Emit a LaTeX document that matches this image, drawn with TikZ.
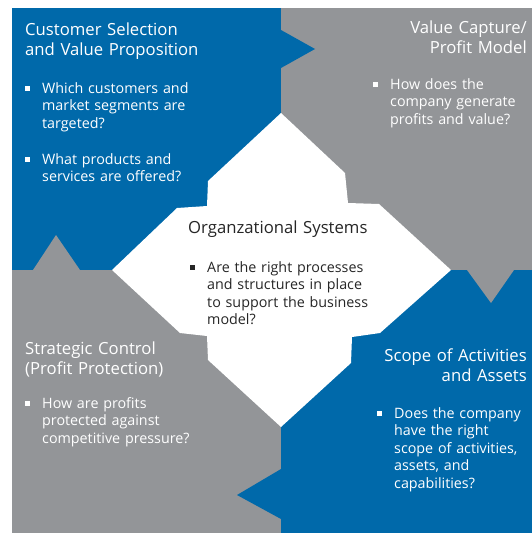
\documentclass[tikz,border=0pt]{standalone}
\usepackage{fontspec}
\setmainfont{Open Sans}
\usepackage{xcolor}
\definecolor{bmblue}{RGB}{0,105,170}
\definecolor{bmgray}{RGB}{147,149,152}
\def\capfont{\fontsize{16.7}{20.5}\selectfont}
\def\itmfont{\fontsize{14.3}{17.6}\selectfont}
\def\sq{\llap{\rule[2.3pt]{4.7pt}{4.7pt}\hspace{12.3pt}}}
\tikzset{
  capL/.style={anchor=base west, inner sep=0, text width=220pt, align=left, font=\capfont},
  capR/.style={anchor=base east, inner sep=0, text width=220pt, align=right, font=\capfont},
  itm/.style={anchor=base west, inner sep=0, text width=200pt, align=left, font=\itmfont},
}
\begin{document}
\begin{tikzpicture}[x=1pt,y=-1pt]
\useasboundingbox (0,0) rectangle (532,533);
% four quadrants
\fill[bmblue] (12,8) rectangle (281,270);
\fill[bmgray] (281,8) rectangle (532,270);
\fill[bmgray] (12,270) rectangle (281,533);
\fill[bmblue] (281,270) rectangle (532,533);
% arrow notches between the quadrants
\fill[bmblue] (281,30) -- (315,49) -- (281,68) -- cycle;
\fill[bmgray] (33,270) -- (56,235) -- (80,270) -- cycle;
\fill[bmgray] (467,270) -- (491,303) -- (514,270) -- cycle;
\fill[bmblue] (281,469) -- (237,495) -- (281,519) -- cycle;
% white centre with stepped edges
\fill[white] (112,270) -- (177,208) -- (207,206) -- (208,181) -- (281,113)
  -- (345,173) -- (348,203) -- (379,204) -- (451,270)
  -- (380,333) -- (352,337) -- (351,363) -- (281,427)
  -- (208,360) -- (207,336) -- (180,333) -- cycle;

\node[capL,white] (csel) at (25,35) {Customer Selection\\and Value Proposition};
\node[itm,white] (csel1) at (42,93) {\sq Which customers and\\market segments are\\targeted?};
\node[itm,white] (csel2) at (42,164) {\sq What products and\\services are offered?};

\node[capR,white] (vcap) at (527,33) {Value Capture/\\Profit Model};
\node[itm,white] (vcap1) at (390,89) {\sq How does the\\company generate\\profits and value?};

\node[capL,black!85] (org) at (188,233) {Organzational Systems};
\node[itm,black!85] (org1) at (207,272) {\sq Are the right processes\\and structures in place\\to support the business\\model?};

\node[capL,white] (sctl) at (25,354) {Strategic Control\\(Profit Protection)};
\node[itm,white] (sctl1) at (42,408) {\sq How are profits\\protected against\\competitive pressure?};

\node[capR,white] (scope) at (527,361) {Scope of Activities\\and Assets};
\node[itm,white] (scope1) at (394,418) {\sq Does the company\\have the right\\scope of activities,\\assets, and\\capabilities?};
\end{tikzpicture}
\end{document}
